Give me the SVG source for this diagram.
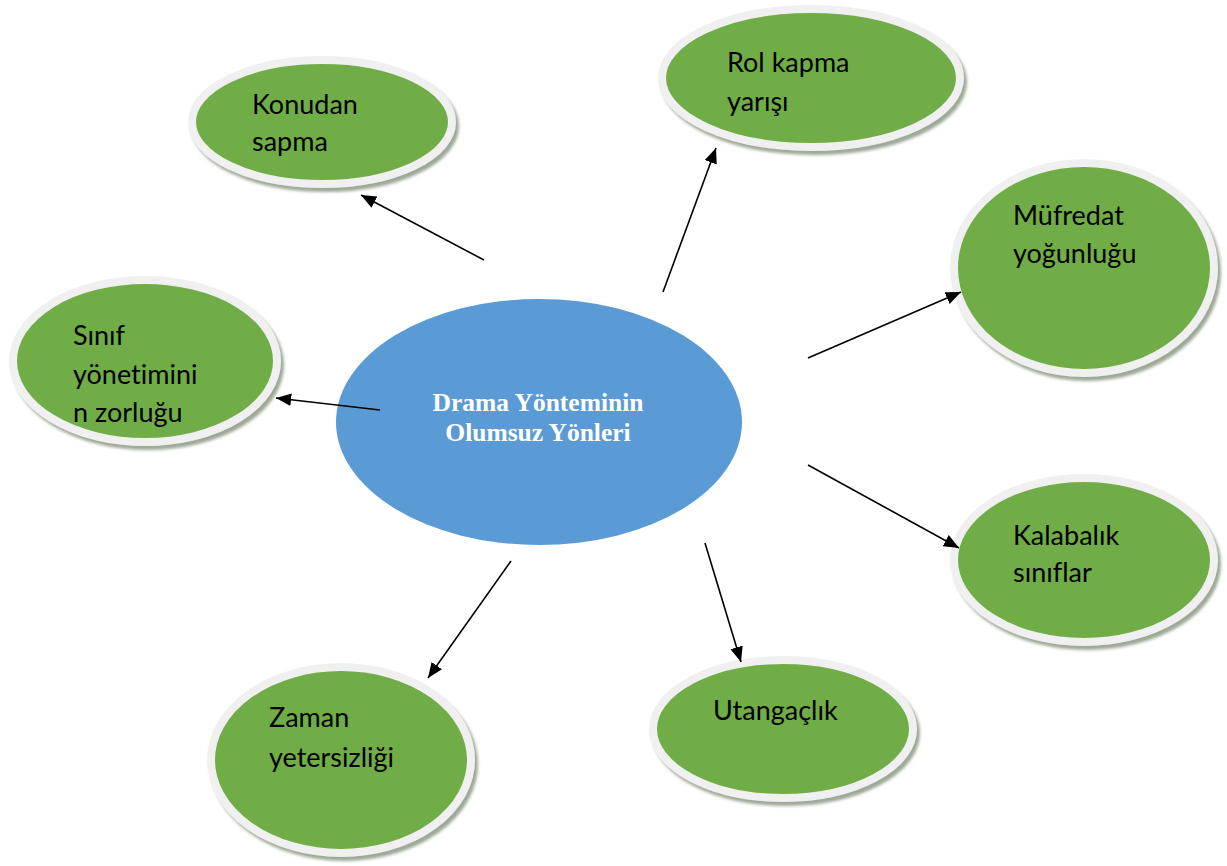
<svg xmlns="http://www.w3.org/2000/svg" width="1227" height="866" viewBox="0 0 1227 866">
  <style>
    .bubble { fill: #70ad47; stroke: #f0f0f0; stroke-width: 8; filter: url(#soft); }
    .hub { fill: #5b9bd5; }
    .lbl { font-family: Lato, "Open Sans", "Liberation Sans", sans-serif; font-size: 27px; fill: #000; font-variant-ligatures: none; }
    .hubtxt { font-family: "Liberation Serif", "Times New Roman", serif; font-weight: bold; font-size: 25.5px; fill: #fff; text-anchor: middle; }
    .link { stroke: #000; stroke-width: 1.6; fill: none; marker-end: url(#head); }
  </style>
  <defs>
    <filter id="soft" x="-10%" y="-10%" width="125%" height="125%">
      <feDropShadow dx="3" dy="4" stdDeviation="1.5" flood-color="#7d8a73" flood-opacity="0.75"/>
    </filter>
    <marker id="head" viewBox="0 0 10 10" refX="10" refY="5" markerWidth="9.5" markerHeight="9.5" markerUnits="strokeWidth" orient="auto">
      <path d="M0,0.8 L10,5 L0,9.2 z" fill="#000"/>
    </marker>
  </defs>

  <rect width="1227" height="866" fill="#fff"/>

  <g id="hub">
    <ellipse class="hub" cx="539" cy="422" rx="203" ry="123"/>
    <text class="hubtxt" x="538" y="411">Drama Yönteminin</text>
    <text class="hubtxt" x="538" y="441">Olumsuz Yönleri</text>
  </g>

  <g id="konudan-sapma">
    <ellipse class="bubble" cx="322" cy="122" rx="130" ry="62"/>
    <text class="lbl" x="252" y="114">Konudan</text>
    <text class="lbl" x="252" y="151">sapma</text>
  </g>

  <g id="rol-kapma">
    <ellipse class="bubble" cx="811" cy="78" rx="149" ry="69"/>
    <text class="lbl" x="727" y="72">Rol kapma</text>
    <text class="lbl" x="727" y="111">yarışı</text>
  </g>

  <g id="mufredat">
    <ellipse class="bubble" cx="1084" cy="268" rx="130" ry="105"/>
    <text class="lbl" x="1013" y="225">Müfredat</text>
    <text class="lbl" x="1013" y="263">yoğunluğu</text>
  </g>

  <g id="sinif-yonetimi">
    <ellipse class="bubble" cx="145" cy="361" rx="132" ry="81"/>
    <text class="lbl" x="73" y="345">Sınıf</text>
    <text class="lbl" x="73" y="384">yönetimini</text>
    <text class="lbl" x="73" y="422">n zorluğu</text>
  </g>

  <g id="kalabalik">
    <ellipse class="bubble" cx="1084" cy="560" rx="130" ry="82"/>
    <text class="lbl" x="1013" y="545">Kalabalık</text>
    <text class="lbl" x="1013" y="582">sınıflar</text>
  </g>

  <g id="utangaclik">
    <ellipse class="bubble" cx="783" cy="729" rx="130" ry="69"/>
    <text class="lbl" x="713" y="720">Utangaçlık</text>
  </g>

  <g id="zaman">
    <ellipse class="bubble" cx="341" cy="760" rx="130" ry="93"/>
    <text class="lbl" x="269" y="727">Zaman</text>
    <text class="lbl" x="269" y="767">yetersizliği</text>
  </g>

  <!-- connectors from the hub to each outer bubble, drawn on top -->
  <g id="connectors">
    <line class="link" x1="484" y1="260" x2="361" y2="195"/>
    <line class="link" x1="663" y1="292" x2="716" y2="148"/>
    <line class="link" x1="808" y1="358" x2="961" y2="292"/>
    <line class="link" x1="380" y1="410" x2="276" y2="398"/>
    <line class="link" x1="808" y1="465" x2="959" y2="548"/>
    <line class="link" x1="705" y1="543" x2="741" y2="662"/>
    <line class="link" x1="511" y1="561" x2="428" y2="678"/>
  </g>
</svg>
